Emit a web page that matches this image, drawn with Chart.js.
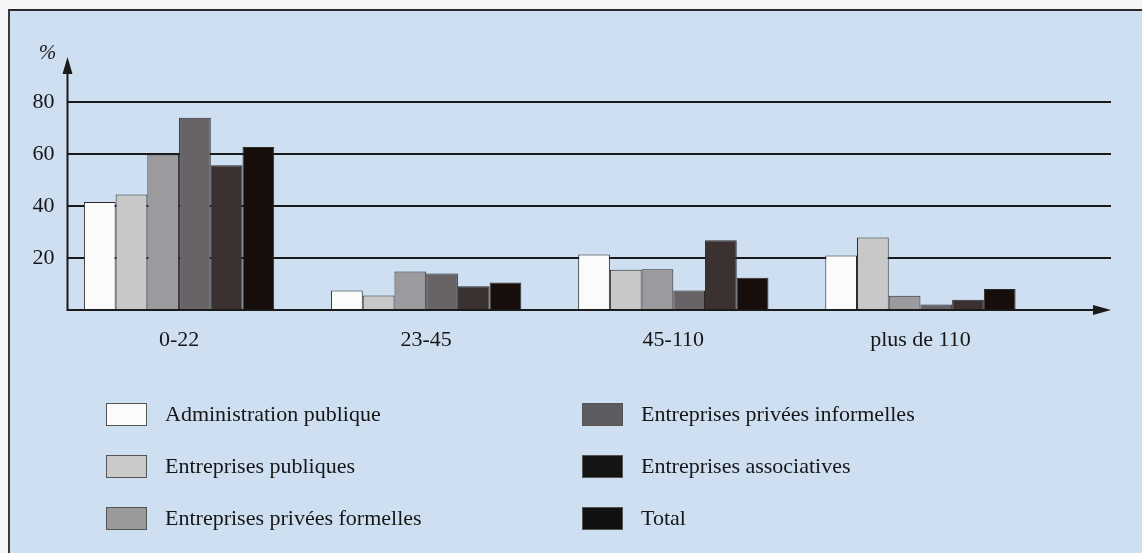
<!DOCTYPE html>
<html>
<head>
<meta charset="utf-8">
<script src="https://cdn.jsdelivr.net/npm/chart.js@4"></script>
<style>
  body { margin: 0; background: #f4f6f8; }
  #page { position: relative; width: 1142px; height: 553px; overflow: hidden; background: #f4f6f8; }
  #panel { position: absolute; left: 8px; top: 9px; right: 0; bottom: 0; background: #cedff1;
           border-left: 2px solid #3a3a3a; border-top: 2px solid #2a2a2a; }
  #chart { position: absolute; left: 0; top: 0; }
  #legend { position: absolute; left: 0; top: 0; width: 1142px; height: 553px; pointer-events: none;
            font-family: "Liberation Serif", "Times New Roman", serif; font-size: 22px; color: #161616; }
  .item { position: absolute; display: flex; align-items: center; height: 24px; }
  .swatch { width: 39px; height: 21px; border: 1px solid #555; margin-right: 18px; box-sizing: content-box; }
</style>
</head>
<body>
<div id="page">
  <div id="panel"></div>
  <canvas id="chart" width="1142" height="380"></canvas>
  <div id="legend"></div>
</div>
<script>
// --- Data (in %) ---
const categories = ['0-22', '23-45', '45-110', 'plus de 110'];
const seriesNames = [
  'Administration publique',
  'Entreprises publiques',
  'Entreprises privées formelles',
  'Entreprises privées informelles',
  'Entreprises associatives',
  'Total'
];
const adminPublique = [41.5, 7.5, 21.3, 21.0];
const entPubliques = [44.4, 5.6, 15.5, 27.9];
const privFormelles = [59.8, 14.8, 15.7, 5.5];
const privInformelles = [73.9, 14.0, 7.5, 2.1];
const associatives = [55.7, 9.1, 26.8, 3.9];
const total = [62.7, 10.6, 12.4, 8.1];
const yTicks = [20, 40, 60, 80];

const seriesValues = [adminPublique, entPubliques, privFormelles, privInformelles, associatives, total];
const fillColors = ['#fbfbfb', '#c9c8c9', '#9b9a9f', '#676367', '#3a3130', '#170d0b'];
const legendColors = ['#fbfbfb', '#cbcaca', '#9a999c', '#5e5b60', '#141414', '#111111'];

const ink = '#1a1a1a';
const serif = '"Liberation Serif", "Times New Roman", serif';

// axes with arrows and the horizontal rules, drawn behind the bars
const axesPlugin = {
  id: 'axes',
  beforeDatasetsDraw(chart) {
    const { ctx, chartArea, scales: { y } } = chart;
    const x0 = chartArea.left + 12;
    const xEnd = 1111;
    ctx.save();
    ctx.strokeStyle = ink;
    ctx.lineWidth = 2;
    yTicks.forEach(v => {
      const py = Math.round(y.getPixelForValue(v));
      ctx.beginPath();
      ctx.moveTo(x0, py);
      ctx.lineTo(xEnd, py);
      ctx.stroke();
    });
    // y axis
    const py0 = y.getPixelForValue(0);
    ctx.beginPath();
    ctx.moveTo(x0, py0 + 1);
    ctx.lineTo(x0, 68);
    ctx.stroke();
    ctx.fillStyle = ink;
    ctx.beginPath();
    ctx.moveTo(x0, 57);
    ctx.lineTo(x0 - 5, 74);
    ctx.lineTo(x0 + 5, 74);
    ctx.closePath();
    ctx.fill();
    // "%" unit label
    ctx.font = 'italic 21px ' + serif;
    ctx.textAlign = 'center';
    ctx.textBaseline = 'middle';
    ctx.fillText('%', x0 - 20, 53);
    ctx.restore();
  },
  afterDatasetsDraw(chart) {
    const { ctx, chartArea, scales: { y } } = chart;
    const x0 = chartArea.left + 12;
    const xEnd = 1111;
    const py0 = Math.round(y.getPixelForValue(0));
    ctx.save();
    ctx.strokeStyle = ink;
    ctx.fillStyle = ink;
    ctx.lineWidth = 2;
    ctx.beginPath();
    ctx.moveTo(x0, py0);
    ctx.lineTo(xEnd - 10, py0);
    ctx.stroke();
    ctx.beginPath();
    ctx.moveTo(xEnd, py0);
    ctx.lineTo(xEnd - 18, py0 - 5);
    ctx.lineTo(xEnd - 18, py0 + 5);
    ctx.closePath();
    ctx.fill();
    ctx.restore();
  }
};

const ctx = document.getElementById('chart').getContext('2d');
const chart = new Chart(ctx, {
  type: 'bar',
  data: {
    labels: categories,
    datasets: seriesNames.map((name, i) => ({
      label: name,
      data: seriesValues[i],
      backgroundColor: fillColors[i],
      borderColor: '#2b2b2b',
      borderWidth: 1,
      categoryPercentage: 0.77,
      barPercentage: 1.0
    }))
  },
  options: {
    responsive: false,
    animation: false,
    layout: { padding: { left: 10, right: 98, top: 76, bottom: 20 } },
    plugins: {
      legend: { display: false },
      tooltip: { enabled: false }
    },
    scales: {
      x: {
        grid: { display: false, drawTicks: false },
        border: { display: false },
        ticks: { color: '#161616', font: { family: serif, size: 22 }, padding: 17 },
        afterFit(scale) { scale.height = 50; }
      },
      y: {
        min: 0,
        max: 90,
        grid: { display: false, drawTicks: false },
        border: { display: false },
        ticks: { color: '#161616', font: { family: serif, size: 22 }, padding: 1 },
        afterBuildTicks(scale) { scale.ticks = yTicks.map(v => ({ value: v })); },
        afterFit(scale) { scale.width = 45.5; }
      }
    }
  },
  plugins: [axesPlugin]
});

// --- Legend in two columns, built from the datasets ---
const legendBox = document.getElementById('legend');
chart.data.datasets.forEach((ds, i) => {
  const col = Math.floor(i / 3);
  const row = i % 3;
  const item = document.createElement('div');
  item.className = 'item';
  item.style.left = (col === 0 ? 106 : 582) + 'px';
  item.style.top = (402 + row * 52) + 'px';
  const sw = document.createElement('span');
  sw.className = 'swatch';
  sw.style.background = legendColors[i];
  const txt = document.createElement('span');
  txt.textContent = ds.label;
  item.appendChild(sw);
  item.appendChild(txt);
  legendBox.appendChild(item);
});
</script>
</body>
</html>
